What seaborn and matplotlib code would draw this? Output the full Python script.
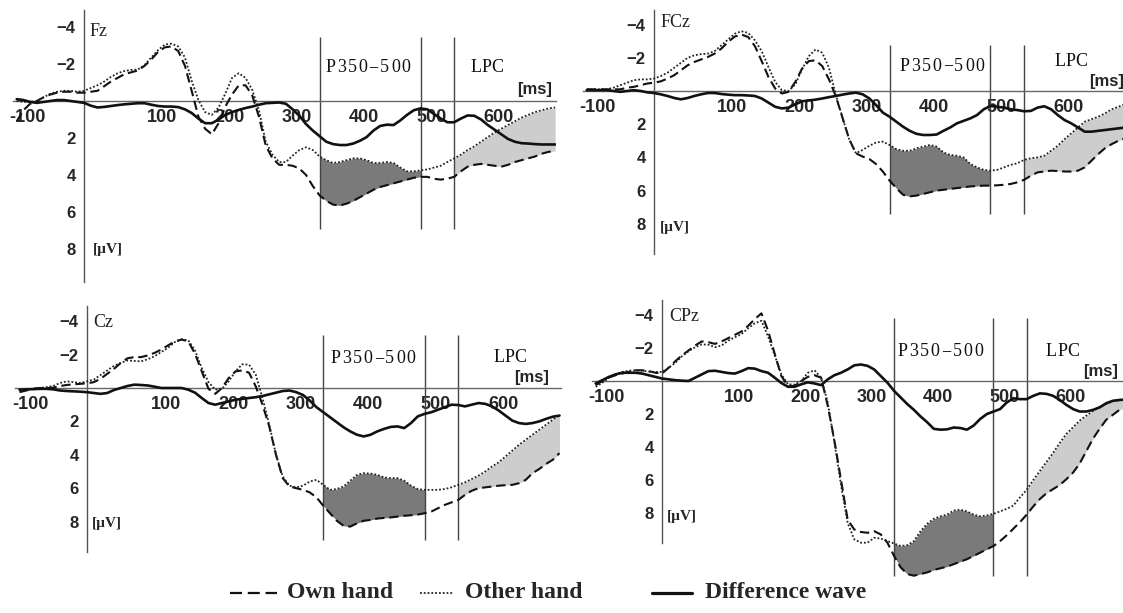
import numpy as np
import pandas as pd
import matplotlib.pyplot as plt
import seaborn as sns
from matplotlib.lines import Line2D
from matplotlib.transforms import ScaledTranslation

sns.set_style("white")
plt.rcParams["font.family"] = ["Liberation Sans", "DejaVu Sans"]

# time axis in ms, values in microvolts (positive plotted downwards)
times = np.arange(-100, 701, 10)

fz_own = [1.1, 0.5, 0.15, 0.0, -0.2, -0.35, -0.45, -0.5, -0.5, -0.45,
          -0.45, -0.5, -0.55, -0.8, -1.05, -1.25, -1.45, -1.55, -1.65, -1.9,
          -2.25, -2.65, -2.9, -2.95, -2.7, -1.9, -0.55, 0.85, 1.5, 1.8,
          1.2, 0.3, -0.35, -0.85, -0.85, -0.3, 0.85, 2.4, 3.1, 3.45,
          3.45, 3.5, 3.65, 4.0, 4.6, 5.1, 5.4, 5.6, 5.65, 5.55,
          5.4, 5.2, 5.0, 4.8, 4.65, 4.55, 4.45, 4.35, 4.25, 4.15,
          4.1, 4.1, 4.2, 4.25, 4.2, 4.1, 3.8, 3.55, 3.45, 3.4,
          3.45, 3.5, 3.55, 3.45, 3.3, 3.2, 3.1, 3.0, 2.85, 2.75,
          2.7]
fz_other = [0.0, 0.05, 0.05, 0.0, -0.2, -0.4, -0.5, -0.55, -0.55, -0.5,
            -0.55, -0.7, -0.85, -1.05, -1.3, -1.5, -1.62, -1.68, -1.7, -1.95,
            -2.35, -2.75, -3.05, -3.1, -2.95, -2.35, -1.1, -0.05, 0.6, 0.75,
            0.35, -0.4, -1.25, -1.5, -1.25, -0.6, 0.5, 2.2, 2.9, 3.3,
            3.3, 2.95, 2.65, 2.5, 2.65, 3.0, 3.2, 3.35, 3.3, 3.2,
            3.1, 3.1, 3.2, 3.35, 3.35, 3.3, 3.35, 3.6, 3.8, 3.8,
            3.75, 3.7, 3.6, 3.5, 3.3, 3.1, 2.9, 2.65, 2.45, 2.2,
            1.95, 1.7, 1.5, 1.3, 1.1, 0.9, 0.75, 0.6, 0.5, 0.4,
            0.35]
fz_diff = [-0.1, -0.05, 0.05, 0.1, 0.05, 0.0, -0.05, -0.05, 0.0, 0.05,
           0.1, 0.25, 0.35, 0.32, 0.27, 0.22, 0.18, 0.15, 0.12, 0.12,
           0.2, 0.27, 0.3, 0.3, 0.33, 0.45, 0.65, 0.95, 1.2, 1.2,
           1.0, 0.75, 0.6, 0.48, 0.38, 0.3, 0.2, 0.12, 0.1, 0.08,
           0.15, 0.45, 0.8, 1.25, 1.6, 1.9, 2.2, 2.33, 2.38, 2.38,
           2.3, 2.15, 1.95, 1.6, 1.35, 1.28, 1.3, 1.05, 0.75, 0.5,
           0.4, 0.45, 0.7, 0.95, 1.15, 1.15, 0.95, 0.78, 0.8, 1.0,
           1.3, 1.55, 1.8, 2.05, 2.2, 2.28, 2.3, 2.33, 2.35, 2.35,
           2.35]

fcz_own = [-0.1, -0.1, -0.1, -0.1, -0.1, -0.1, -0.2, -0.25, -0.35, -0.45,
           -0.5, -0.58, -0.75, -0.95, -1.25, -1.55, -1.75, -1.9, -2.05, -2.25,
           -2.55, -2.95, -3.28, -3.4, -3.25, -2.7, -1.8, -0.85, -0.15, 0.15,
           0.05, -0.55, -1.35, -1.8, -1.85, -1.5, -0.7, 0.3, 1.6, 2.9,
           3.75, 3.95, 4.1, 4.4, 4.85, 5.4, 5.85, 6.25, 6.35, 6.3,
           6.2, 6.1, 6.0, 5.95, 5.9, 5.85, 5.8, 5.75, 5.72, 5.7,
           5.7, 5.68, 5.65, 5.6, 5.5, 5.35, 5.1, 4.9, 4.85, 4.8,
           4.82, 4.85, 4.85, 4.8, 4.6, 4.2, 3.8, 3.45, 3.2, 3.0,
           2.85]
fcz_other = [-0.1, -0.1, -0.1, -0.1, -0.2, -0.35, -0.5, -0.65, -0.7, -0.7,
             -0.75, -0.9, -1.1, -1.4, -1.7, -2.0, -2.15, -2.22, -2.25, -2.4,
             -2.75, -3.1, -3.45, -3.6, -3.5, -3.05, -2.4, -1.45, -0.55, -0.05,
             0.0, -0.4, -1.3, -2.1, -2.5, -2.3, -1.4, 0.2, 1.6, 2.9,
             3.75, 3.55, 3.3, 3.1, 3.05, 3.25, 3.5, 3.6, 3.6, 3.45,
             3.35, 3.25, 3.35, 3.7, 3.85, 3.9, 4.0, 4.4, 4.6, 4.75,
             4.8, 4.75, 4.6, 4.45, 4.35, 4.15, 4.05, 4.0, 3.9, 3.6,
             3.3, 2.9, 2.55, 2.2, 1.85, 1.7, 1.55, 1.35, 1.1, 0.95,
             0.8]
fcz_diff = [-0.05, -0.05, -0.05, -0.05, 0.0, 0.05, 0.0, -0.05, 0.0, 0.08,
            0.12, 0.2, 0.3, 0.42, 0.5, 0.42, 0.3, 0.2, 0.12, 0.12,
            0.18, 0.22, 0.25, 0.25, 0.27, 0.3, 0.45, 0.7, 0.95, 1.05,
            1.0, 0.8, 0.62, 0.57, 0.52, 0.45, 0.37, 0.3, 0.22, 0.15,
            0.1, 0.2, 0.45, 0.85, 1.3, 1.55, 1.85, 2.15, 2.4, 2.58,
            2.65, 2.65, 2.62, 2.4, 2.2, 1.95, 1.8, 1.65, 1.45, 1.1,
            0.9, 0.95, 1.0, 1.1, 1.15, 1.22, 1.2, 1.0, 0.92, 1.1,
            1.45, 1.75, 1.95, 2.2, 2.45, 2.45, 2.4, 2.35, 2.3, 2.25,
            2.2]

cz_own = [0.25, 0.15, 0.05, 0.0, 0.0, -0.02, -0.12, -0.18, -0.22, -0.25,
          -0.28, -0.35, -0.55, -0.85, -1.15, -1.5, -1.78, -1.85, -1.85, -1.95,
          -2.1, -2.3, -2.55, -2.78, -2.9, -2.8, -2.05, -1.0, 0.05, 0.35,
          0.0, -0.6, -1.0, -1.05, -0.92, -0.1, 1.0, 2.3, 4.0, 5.4,
          5.9, 6.0, 6.1, 6.25, 6.55, 7.05, 7.5, 7.95, 8.25, 8.3,
          8.1, 7.95, 7.9, 7.82, 7.78, 7.75, 7.7, 7.65, 7.62, 7.58,
          7.5, 7.4, 7.2, 7.0, 6.85, 6.7, 6.4, 6.15, 6.0, 5.95,
          5.9, 5.85, 5.82, 5.8, 5.7, 5.5, 5.1, 4.85, 4.55, 4.3,
          3.9]
cz_other = [0.15, 0.1, 0.05, 0.0, -0.05, -0.12, -0.3, -0.4, -0.35, -0.3,
            -0.4, -0.5, -0.78, -1.05, -1.33, -1.5, -1.65, -1.62, -1.6, -1.72,
            -1.9, -2.15, -2.4, -2.75, -2.92, -2.85, -2.25, -1.2, -0.35, 0.1,
            0.05, -0.4, -1.0, -1.42, -1.4, -0.8, 0.6, 2.2, 4.0, 5.3,
            5.85, 5.95, 5.85, 5.6, 5.5, 5.8, 6.1, 6.05, 5.9, 5.55,
            5.2, 5.1, 5.12, 5.2, 5.35, 5.4, 5.4, 5.55, 5.85, 6.05,
            6.1, 6.1, 6.1, 6.05, 5.95, 5.8, 5.65, 5.45, 5.25, 5.0,
            4.7, 4.45, 4.1, 3.75, 3.4, 3.1, 2.8, 2.5, 2.2, 1.9,
            1.6]
cz_diff = [0.1, 0.08, 0.07, 0.05, 0.05, 0.08, 0.15, 0.18, 0.2, 0.22,
           0.25, 0.3, 0.35, 0.3, 0.12, 0.0, -0.12, -0.2, -0.18, -0.15,
           -0.08, 0.0, 0.0, 0.0, 0.0, 0.1, 0.28, 0.6, 0.9, 1.0,
           0.9, 0.8, 0.7, 0.65, 0.6, 0.55, 0.48, 0.38, 0.28, 0.18,
           0.15, 0.25, 0.42, 0.75, 1.15, 1.45, 1.75, 2.05, 2.35, 2.6,
           2.8, 2.9, 2.8, 2.6, 2.45, 2.33, 2.3, 2.4, 2.1, 1.7,
           1.55, 1.45, 1.3, 1.15, 1.0, 1.02, 1.1, 1.0, 0.9, 0.95,
           1.1, 1.35, 1.65, 1.95, 2.1, 2.15, 2.1, 2.0, 1.85, 1.72,
           1.65]

cpz_own = [0.25, 0.0, -0.22, -0.35, -0.45, -0.55, -0.65, -0.65, -0.6, -0.5,
           -0.45, -0.8, -1.2, -1.55, -1.85, -2.15, -2.4, -2.35, -2.25, -2.4,
           -2.6, -2.8, -3.0, -3.35, -3.75, -4.1, -3.05, -1.65, -0.3, 0.3,
           0.3, 0.0, -0.25, -0.35, -0.2, 1.5, 3.6, 6.0, 8.4, 9.0,
           9.15, 9.2, 9.1, 9.3, 9.8, 10.6, 11.3, 11.7, 11.8, 11.7,
           11.6, 11.45, 11.35, 11.25, 11.1, 10.95, 10.8, 10.6, 10.4, 10.2,
           10.0, 9.7, 9.35, 8.95, 8.55, 8.1, 7.6, 7.15, 6.8, 6.55,
           6.3, 5.95, 5.55, 5.0, 4.25, 3.5, 2.9, 2.35, 2.05, 1.75,
           1.6]
cpz_other = [0.35, 0.1, -0.2, -0.4, -0.55, -0.62, -0.65, -0.62, -0.57, -0.55,
             -0.55, -0.8, -1.1, -1.5, -1.8, -2.05, -2.22, -2.2, -2.05, -2.15,
             -2.45, -2.65, -2.85, -3.2, -3.5, -3.65, -2.7, -1.55, -0.4, 0.2,
             0.22, 0.0, -0.5, -0.65, -0.2, 1.3, 3.7, 6.3, 8.6, 9.6,
             9.8, 9.8, 9.5, 9.55, 9.7, 9.85, 10.0, 9.95, 9.7, 9.1,
             8.65, 8.35, 8.2, 8.1, 7.85, 7.8, 7.9, 8.1, 8.2, 8.15,
             8.05, 7.9, 7.75, 7.55, 7.05, 6.6, 6.0, 5.45, 4.9, 4.35,
             3.75, 3.2, 2.8, 2.4, 2.1, 1.82, 1.58, 1.38, 1.22, 1.15,
             1.1]
cpz_diff = [0.15, -0.05, -0.25, -0.4, -0.5, -0.5, -0.5, -0.45, -0.35, -0.25,
            -0.15, -0.1, -0.05, -0.02, 0.0, -0.2, -0.4, -0.6, -0.62, -0.55,
            -0.48, -0.45, -0.6, -0.78, -0.75, -0.6, -0.5, -0.2, 0.12, 0.35,
            0.35, 0.2, 0.08, 0.15, 0.25, -0.1, -0.35, -0.5, -0.7, -0.95,
            -1.0, -0.92, -0.7, -0.3, 0.1, 0.6, 1.0, 1.4, 1.75, 2.15,
            2.5, 2.9, 2.95, 2.93, 2.82, 2.85, 2.95, 2.7, 2.3, 2.0,
            1.85, 1.7, 1.3, 1.05, 1.1, 1.1, 0.9, 0.75, 0.78, 0.9,
            1.15, 1.45, 1.7, 1.85, 1.85, 1.75, 1.6, 1.35, 1.2, 1.15,
            1.12]

x_ticks = [-100, 100, 200, 300, 400, 500, 600]
y_ticks = [-4, -2, 2, 4, 6, 8]
y_ticklabels = ["\u22124", "\u22122", "2", "4", "6", "8"]
windows = [350, 500, 550]

# layout in pixels: origin of (0 ms, 0 uV), px per ms, px per uV, text spots
W, H = 1123, 613
XLIM = (-106, 702)
YLIM = (-5, 12.3)
layout = {
    "Fz":  dict(x0=84, sx=0.673, y0=101, sy=18.5, vspan=(-3.45, 6.9),
                name=(8, -3.75), p=(358, -1.83), lpc=(574, -1.83), ms=(643, -0.6), uv=(13, 8.0)),
    "FCz": dict(x0=654, sx=0.673, y0=91, sy=16.6, vspan=(-2.8, 7.4),
                name=(9, -4.1), p=(364, -1.5), lpc=(595, -1.75), ms=(647, -0.55), uv=(9, 8.25)),
    "Cz":  dict(x0=87, sx=0.675, y0=388, sy=16.7, vspan=(-3.2, 9.1),
                name=(9, -3.9), p=(360, -1.75), lpc=(602, -1.85), ms=(633, -0.6), uv=(7, 8.1)),
    "CPz": dict(x0=662, sx=0.663, y0=381, sy=16.5, vspan=(-3.8, 11.8),
                name=(11, -3.9), p=(355, -1.8), lpc=(579, -1.8), ms=(635, -0.55), uv=(8, 8.2)),
}

panels = [("Fz", fz_own, fz_other, fz_diff),
          ("FCz", fcz_own, fcz_other, fcz_diff),
          ("Cz", cz_own, cz_other, cz_diff),
          ("CPz", cpz_own, cpz_other, cpz_diff)]

fig = plt.figure(figsize=(W / 100, H / 100), dpi=100)


def spaced_text(ax, pos, s, pitch=7.8, size=13):
    # letter-spaced serif label like in the original figure
    for i, ch in enumerate(s):
        ax.annotate(ch, pos, xytext=(i * pitch + pitch / 2, 0), textcoords="offset points",
                    ha="center", va="center", fontsize=size, family="Liberation Serif",
                    color="#111111", annotation_clip=False)


for name, own, other, diff in panels:
    g = layout[name]
    left = g["x0"] + g["sx"] * XLIM[0]
    right = g["x0"] + g["sx"] * XLIM[1]
    top = g["y0"] + g["sy"] * YLIM[0]
    bottom = g["y0"] + g["sy"] * YLIM[1]
    ax = fig.add_axes([left / W, 1 - bottom / H, (right - left) / W, (bottom - top) / H])
    ax.patch.set_alpha(0)

    df = pd.DataFrame({"t": times, "own": own, "other": other, "diff": diff})
    own_a = df["own"].to_numpy()
    other_a = df["other"].to_numpy()

    ax.fill_between(times, own_a, other_a, where=(times >= 350) & (times <= 500),
                    color="#7a7a7a", lw=0, zorder=1)
    ax.fill_between(times, own_a, other_a, where=(times >= 550),
                    color="#cdcdcd", lw=0, zorder=1)

    sns.lineplot(data=df, x="t", y="own", ax=ax, color="#111111", lw=1.5,
                 linestyle=(0, (4.5, 2.3)), errorbar=None, zorder=3)
    sns.lineplot(data=df, x="t", y="other", ax=ax, color="#222222", lw=1.3,
                 linestyle=(0, (1, 1.1)), errorbar=None, zorder=3)
    sns.lineplot(data=df, x="t", y="diff", ax=ax, color="#111111", lw=1.9,
                 errorbar=None, zorder=4)

    ax.vlines(windows, g["vspan"][0], g["vspan"][1], color="#444444", lw=1.0, zorder=2)

    ax.set_xlim(XLIM)
    ax.set_ylim(YLIM[1], YLIM[0])
    ax.set_xlabel("")
    ax.set_ylabel("")

    for side in ["top", "right"]:
        ax.spines[side].set_visible(False)
    ax.spines["left"].set_position(("data", 0))
    ax.spines["bottom"].set_position(("data", 0))
    ax.spines["left"].set_bounds(-4.9, 9.8)
    ax.spines["left"].set_color("#555555")
    ax.spines["bottom"].set_color("#666666")
    ax.spines["left"].set_linewidth(1.0)
    ax.spines["bottom"].set_linewidth(1.0)

    ax.set_xticks(x_ticks)
    ax.set_xticklabels([str(v) for v in x_ticks])
    ax.set_yticks(y_ticks)
    ax.set_yticklabels(y_ticklabels)
    ax.tick_params(axis="y", direction="out", length=4.5, width=2, pad=1.5,
                   labelsize=12, color="#111111")
    ax.tick_params(axis="x", direction="out", length=3, width=1.3, pad=3,
                   labelsize=13, color="#111111")
    shift = ScaledTranslation(11 / 100, 0, fig.dpi_scale_trans)
    for lab in ax.get_xticklabels():
        lab.set_fontweight("bold")
        lab.set_transform(lab.get_transform() + shift)
    for lab in ax.get_yticklabels():
        lab.set_fontweight("bold")

    ax.text(*g["name"], name, ha="left", va="center", fontsize=13,
            family="Liberation Serif", color="#222222")
    spaced_text(ax, g["p"], "P350\u2212500")
    spaced_text(ax, g["lpc"], "LPC")
    ax.text(*g["ms"], "[ms]", ha="left", va="center", fontsize=12,
            fontweight="bold", clip_on=False)
    ax.text(*g["uv"], "[\u00b5V]", ha="left", va="center", fontsize=11,
            fontweight="bold", family="Liberation Serif")

# legend drawn by hand below the panels
ly = 1 - 593 / H
fig.add_artist(Line2D([230 / W, 277 / W], [ly, ly], color="#111111", lw=1.6,
                      linestyle=(0, (5.4, 2.6))))
fig.add_artist(Line2D([420 / W, 453 / W], [ly, ly], color="#222222", lw=1.3,
                      linestyle=(0, (1, 1.1))))
fig.add_artist(Line2D([652 / W, 692 / W], [ly, ly], color="#111111", lw=2.3))
for xp, label in [(287, "Own hand"), (465, "Other hand"), (705, "Difference wave")]:
    fig.text(xp / W, ly, label, ha="left", va="center", fontsize=17,
             fontweight="bold", family="Liberation Serif")

fig.savefig("out.png", dpi=100)
